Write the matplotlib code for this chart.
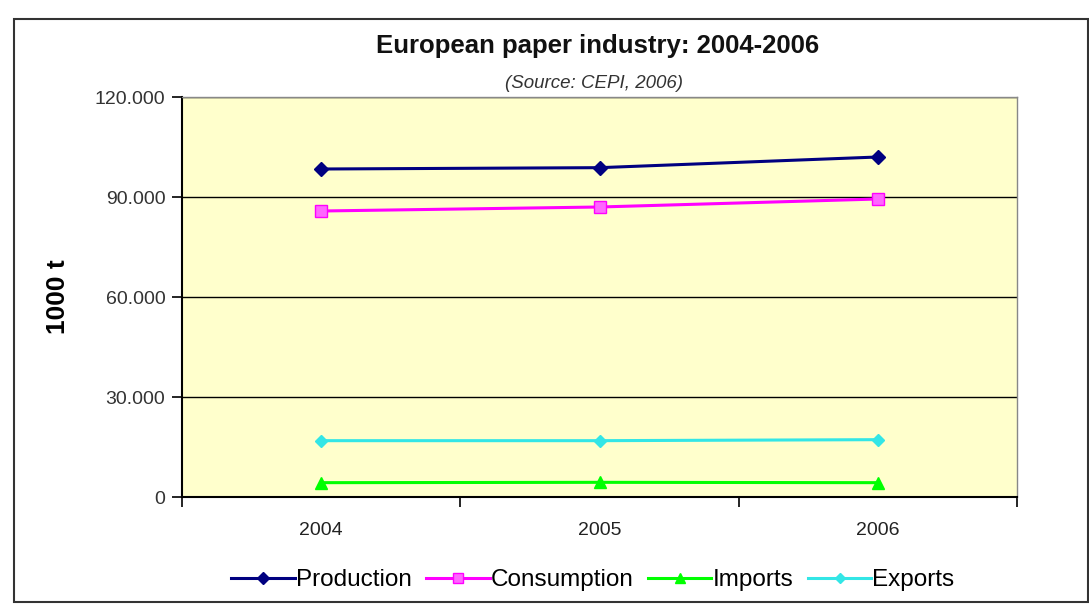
import matplotlib
matplotlib.use("Agg")
import matplotlib.pyplot as plt
from matplotlib.patches import Rectangle
from matplotlib.ticker import FixedLocator, FuncFormatter

plt.rcParams['font.family'] = ['Liberation Sans', 'DejaVu Sans']

years = ['2004', '2005', '2006']
production = [98400, 98800, 102000]
consumption = [85800, 87000, 89400]
imports = [4300, 4400, 4300]
exports = [16900, 16900, 17200]
series_names = ['Production', 'Consumption', 'Imports', 'Exports']
yticks = [0, 30000, 60000, 90000, 120000]

W, H = 1089, 605
fig = plt.figure(figsize=(W / 100, H / 100), dpi=100)
fig.patch.set_facecolor('white')

# outer chart frame
fig.patches.append(Rectangle((14 / W, 1 - 602 / H), (1088 - 14) / W, (602 - 19) / H,
                             transform=fig.transFigure, fill=False,
                             edgecolor='#333333', linewidth=1.5))

L, R, T, B = 182, 1017, 97, 497
ax = fig.add_axes([L / W, 1 - B / H, (R - L) / W, (B - T) / H])
ax.set_facecolor('#FFFFCC')

x = range(len(years))
ax.plot(x, production, color='#000080', marker='D', markersize=7, linewidth=2.2, label=series_names[0])
ax.plot(x, consumption, color='#FF00FF', marker='s', markersize=8, markerfacecolor='#FF66FF',
        markeredgecolor='#FF00FF', linewidth=2.2, label=series_names[1])
ax.plot(x, imports, color='#00FF00', marker='^', markersize=8, linewidth=2.2, label=series_names[2])
ax.plot(x, exports, color='#33E6E6', marker='D', markersize=6, linewidth=2.2, label=series_names[3])

ax.set_xlim(-0.5, len(years) - 0.5)
ax.set_ylim(0, 120000)
ax.yaxis.set_major_locator(FixedLocator(yticks))
ax.yaxis.set_major_formatter(FuncFormatter(lambda v, p: f"{int(v):,}".replace(',', '.')))
ax.grid(axis='y', color='black', linewidth=1.0)
ax.set_axisbelow(True)

ax.set_xticks([i - 0.5 for i in range(len(years) + 1)])
ax.set_xticklabels([])
ax.set_xticks(list(x), minor=True)
ax.set_xticklabels(years, minor=True)
ax.tick_params(axis='x', which='minor', length=0, pad=18, labelsize=14, colors='#222222')
ax.tick_params(axis='x', which='major', length=7, width=1.2, direction='out', color='black')
ax.tick_params(axis='y', length=7, width=1.2, direction='out', labelsize=14, pad=5, labelcolor='#333333')

for s in ['left', 'bottom']:
    ax.spines[s].set_color('black')
    ax.spines[s].set_linewidth(1.5)
for s in ['top', 'right']:
    ax.spines[s].set_color('#888888')
    ax.spines[s].set_linewidth(1.0)

ax.yaxis.set_label_coords((58 - L) / (R - L), 0.5)
ax.set_ylabel('1000 t', fontsize=19, fontweight='bold', va='center')

fig.text(598 / W, 1 - 46 / H, 'European paper industry: 2004-2006', ha='center', va='center',
         fontsize=18.5, fontweight='bold', color='#111111')
fig.text(594 / W, 1 - 84 / H, '(Source: CEPI, 2006)', ha='center', va='center',
         fontsize=13.5, fontstyle='italic', color='#333333')

leg = fig.legend(loc='center', bbox_to_anchor=(593 / W, 1 - 580 / H), ncol=4, frameon=False,
                 fontsize=17.5, handlelength=2.6, handletextpad=0.05, columnspacing=0.6,
                 markerscale=0.85)

fig.savefig('out.png', dpi=100, facecolor='white')
